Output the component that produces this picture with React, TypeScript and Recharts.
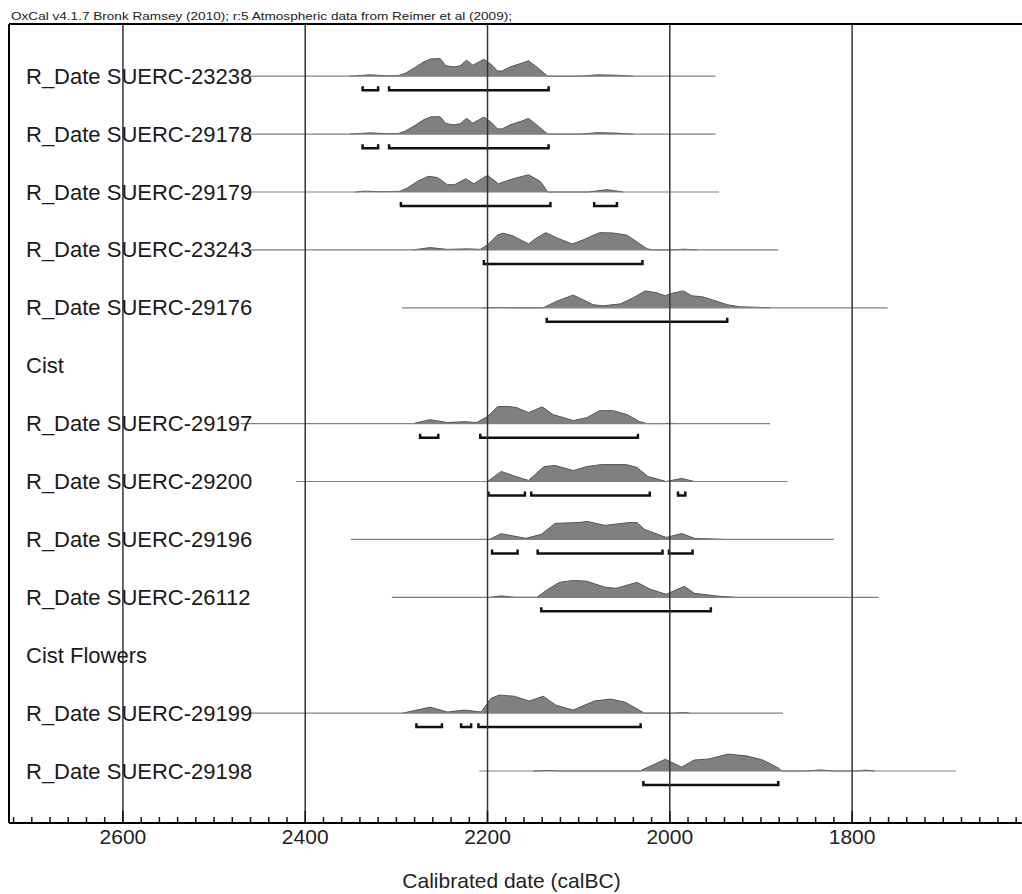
import React from "react";
import {
  ComposedChart,
  XAxis,
  YAxis,
  Area,
  Line,
  ReferenceLine,
  Customized,
} from "recharts";

const TITLE =
  "OxCal v4.1.7 Bronk Ramsey (2010); r:5 Atmospheric data from Reimer et al (2009);";
const X_TITLE = "Calibrated date (calBC)";

const ROW_LABELS = [
  "R_Date SUERC-23238",
  "R_Date SUERC-29178",
  "R_Date SUERC-29179",
  "R_Date SUERC-23243",
  "R_Date SUERC-29176",
  "Cist",
  "R_Date SUERC-29197",
  "R_Date SUERC-29200",
  "R_Date SUERC-29196",
  "R_Date SUERC-26112",
  "Cist Flowers",
  "R_Date SUERC-29199",
  "R_Date SUERC-29198",
];

const MAJOR_TICKS = [2600, 2400, 2200, 2000, 1800];

// probability distributions: [year calBC, relative probability %]
const D_23238 = [[2351,0],[2329,8],[2312,3],[2298,3],[2290,17],[2279,50],[2270,80],[2262,96],[2252,98],[2246,60],[2241,54],[2236,52],[2230,58],[2223,89],[2216,61],[2210,78],[2204,94],[2197,70],[2189,29],[2184,29],[2175,52],[2164,70],[2155,86],[2144,43],[2134,0],[2098,0],[2080,8],[2060,6],[2040,0]];
const D_29178 = [[2351,0],[2329,7],[2312,3],[2298,3],[2290,17],[2279,50],[2270,80],[2262,96],[2252,97],[2246,60],[2241,54],[2236,52],[2230,58],[2223,88],[2216,61],[2210,78],[2204,95],[2197,70],[2189,29],[2184,29],[2175,52],[2164,70],[2155,87],[2144,43],[2134,0],[2098,0],[2080,8],[2060,6],[2040,0]];
const D_29179 = [[2345,0],[2335,5],[2318,2],[2300,3],[2296,4],[2288,22],[2277,59],[2265,87],[2255,81],[2244,41],[2236,41],[2224,74],[2215,46],[2200,93],[2188,46],[2175,69],[2155,96],[2142,59],[2134,0],[2090,0],[2069,13],[2051,0]];
const D_23243 = [[2282,0],[2263,13],[2244,3],[2222,6],[2208,3],[2200,28],[2189,83],[2183,93],[2172,78],[2155,33],[2146,67],[2136,96],[2124,67],[2107,33],[2095,56],[2077,96],[2062,94],[2047,82],[2036,44],[2025,6],[2018,0],[2000,0],[1985,4],[1970,0]];
const D_29176 = [[2205,0],[2186,2],[2170,0],[2139,0],[2124,37],[2106,71],[2095,44],[2084,17],[2073,11],[2054,22],[2040,56],[2027,94],[2014,83],[2005,67],[1996,83],[1985,94],[1976,67],[1964,61],[1953,44],[1937,17],[1923,6],[1904,3],[1890,0]];
const D_29197 = [[2282,0],[2263,22],[2244,6],[2225,11],[2212,6],[2200,39],[2189,94],[2178,96],[2168,89],[2155,61],[2140,93],[2128,50],[2106,17],[2091,33],[2077,72],[2062,72],[2047,50],[2033,11],[2025,0],[2010,0],[2000,2],[1990,0]];
const D_29200 = [[2200,0],[2185,56],[2169,28],[2155,6],[2138,83],[2126,89],[2106,61],[2091,83],[2075,94],[2048,94],[2036,78],[2024,28],[2004,0],[1987,17],[1973,0]];
const D_29196 = [[2198,0],[2185,32],[2158,6],[2141,28],[2126,89],[2099,94],[2091,100],[2071,78],[2044,94],[2036,94],[2028,56],[2004,11],[1987,33],[1973,6],[1941,0]];
const D_26112 = [[2197,0],[2185,8],[2170,0],[2146,0],[2134,44],[2121,83],[2106,94],[2091,89],[2071,56],[2059,50],[2036,83],[2021,44],[2004,17],[1984,61],[1973,22],[1946,6],[1928,0]];
const D_29199 = [[2293,0],[2263,33],[2244,6],[2225,17],[2207,6],[2196,83],[2187,100],[2171,94],[2154,67],[2139,94],[2125,44],[2106,17],[2083,67],[2065,78],[2049,61],[2028,0],[1995,0],[1986,3],[1978,0]];
const D_29198 = [[2150,0],[2135,3],[2120,0],[2033,0],[2005,65],[1987,22],[1973,61],[1957,67],[1936,94],[1915,83],[1898,61],[1881,17],[1877,0],[1850,0],[1835,6],[1820,0],[1795,0],[1785,5],[1775,0]];

// full calibrated span drawn as thin line
const L_23238 = [2466, 1950];
const L_29178 = [2471, 1950];
const L_29179 = [2460, 1946];
const L_23243 = [2460, 1881];
const L_29176 = [2294, 1761];
const L_29197 = [2471, 1890];
const L_29200 = [2410, 1871];
const L_29196 = [2350, 1820];
const L_26112 = [2305, 1771];
const L_29199 = [2460, 1876];
const L_29198 = [2209, 1686];

// 95.4% ranges
const B_23238 = [[2337, 2320], [2308, 2133]];
const B_29178 = [[2337, 2320], [2308, 2133]];
const B_29179 = [[2295, 2131], [2083, 2058]];
const B_23243 = [[2204, 2030]];
const B_29176 = [[2135, 1937]];
const B_29197 = [[2274, 2254], [2208, 2035]];
const B_29200 = [[2199, 2159], [2152, 2022], [1991, 1983]];
const B_29196 = [[2195, 2167], [2145, 2008], [2001, 1975]];
const B_26112 = [[2141, 1955]];
const B_29199 = [[2278, 2250], [2229, 2218], [2210, 2032]];
const B_29198 = [[2029, 1881]];

const SERIES = [
  { row: 0, dens: D_23238, span: L_23238, ranges: B_23238 },
  { row: 1, dens: D_29178, span: L_29178, ranges: B_29178 },
  { row: 2, dens: D_29179, span: L_29179, ranges: B_29179 },
  { row: 3, dens: D_23243, span: L_23243, ranges: B_23243 },
  { row: 4, dens: D_29176, span: L_29176, ranges: B_29176 },
  { row: 6, dens: D_29197, span: L_29197, ranges: B_29197 },
  { row: 7, dens: D_29200, span: L_29200, ranges: B_29200 },
  { row: 8, dens: D_29196, span: L_29196, ranges: B_29196 },
  { row: 9, dens: D_26112, span: L_26112, ranges: B_26112 },
  { row: 11, dens: D_29199, span: L_29199, ranges: B_29199 },
  { row: 12, dens: D_29198, span: L_29198, ranges: B_29198 },
];

const FONT = "'Liberation Sans', Arial, Helvetica, sans-serif";
const X_MIN = 1613.6;
const X_MAX = 2725;
const Y_MIN = -0.898;
const Y_MAX = 12.902;
const PEAK = 0.311; // height of 100% in row units
const BR_OFF = 0.242;
const BR_TICK = 0.069;

const rowY = (i: number) => ROW_LABELS.length - 1 - i;

const ALL_TICKS: number[] = [];
for (let t = 2720; t >= 1620; t -= 20) ALL_TICKS.push(t);

function XTick({ x, y, payload }: any) {
  const major = MAJOR_TICKS.includes(payload.value);
  return (
    <g>
      <line
        x1={x}
        x2={x}
        y1={y}
        y2={y - (major ? 12 : 6)}
        stroke="#111"
        strokeWidth={1.5}
      />
      {major && (
        <text
          x={x}
          y={y + 21}
          textAnchor="middle"
          fontSize={21}
          fontFamily={FONT}
          fill="#222"
        >
          {payload.value}
        </text>
      )}
    </g>
  );
}

function YTick({ x, y, payload }: any) {
  const label = ROW_LABELS[rowY(payload.value)];
  return (
    <text x={x + 17} y={y + 7.5} fontSize={22} fontFamily={FONT} fill="#1a1a1a">
      {label}
    </text>
  );
}

function Title() {
  return (
    <text
      x={11}
      y={19.5}
      fontSize={10.5}
      fontFamily={FONT}
      fill="#222"
      textLength={501}
      lengthAdjust="spacingAndGlyphs"
    >
      {TITLE}
    </text>
  );
}

export default function App() {
  return (
    <div
      style={{
        position: "absolute",
        left: 0,
        top: 0,
        width: 1022,
        height: 894,
        background: "#fff",
        overflow: "hidden",
      }}
    >
      <ComposedChart
        width={1022}
        height={894}
        margin={{ top: 24, right: 0, bottom: 0, left: 8 }}
      >
        <XAxis
          type="number"
          dataKey="year"
          domain={[X_MIN, X_MAX]}
          reversed
          allowDataOverflow
          ticks={ALL_TICKS}
          interval={0}
          tickSize={0}
          tickMargin={0}
          tickLine={false}
          tick={XTick}
          height={71}
          axisLine={{ stroke: "#000", strokeWidth: 2 }}
          label={{
            value: X_TITLE,
            position: "insideBottom",
            offset: 6,
            dx: -4,
            fontSize: 21,
            fill: "#222",
            fontFamily: FONT,
          }}
        />
        <YAxis
          type="number"
          domain={[Y_MIN, Y_MAX]}
          allowDataOverflow
          ticks={ROW_LABELS.map((_, i) => rowY(i))}
          interval={0}
          width={1}
          tickSize={0}
          tickMargin={0}
          tickLine={false}
          tick={YTick}
          axisLine={{ stroke: "#000", strokeWidth: 2 }}
        />

        {SERIES.map((s) => {
          const base = rowY(s.row);
          return (
            <Area
              key={"a" + s.row}
              data={s.dens.map(([year, d]) => ({ year, y: base + (d / 100) * PEAK }))}
              dataKey="y"
              baseValue={base}
              type="linear"
              stroke="#555"
              strokeWidth={1}
              fill="#808080"
              fillOpacity={1}
              dot={false}
              activeDot={false}
              isAnimationActive={false}
            />
          );
        })}

        {SERIES.map((s) => {
          const base = rowY(s.row);
          return (
            <Line
              key={"l" + s.row}
              data={s.span.map((year) => ({ year, y: base }))}
              dataKey="y"
              type="linear"
              stroke="#808080"
              strokeWidth={1.2}
              dot={false}
              activeDot={false}
              isAnimationActive={false}
            />
          );
        })}

        {SERIES.flatMap((s) => {
          const base = rowY(s.row) - BR_OFF;
          return s.ranges.map(([a, b], k) => (
            <Line
              key={"b" + s.row + "-" + k}
              data={[
                { year: a, y: base + BR_TICK },
                { year: a, y: base },
                { year: b, y: base },
                { year: b, y: base + BR_TICK },
              ]}
              dataKey="y"
              type="linear"
              stroke="#111"
              strokeWidth={2.5}
              strokeLinejoin="miter"
              dot={false}
              activeDot={false}
              isAnimationActive={false}
            />
          ));
        })}

        {MAJOR_TICKS.map((t) => (
          <ReferenceLine key={"g" + t} x={t} stroke="#333" strokeWidth={1.5} />
        ))}
        <ReferenceLine y={Y_MAX} stroke="#000" strokeWidth={2} />
        <Customized component={<Title />} />
      </ComposedChart>
    </div>
  );
}
